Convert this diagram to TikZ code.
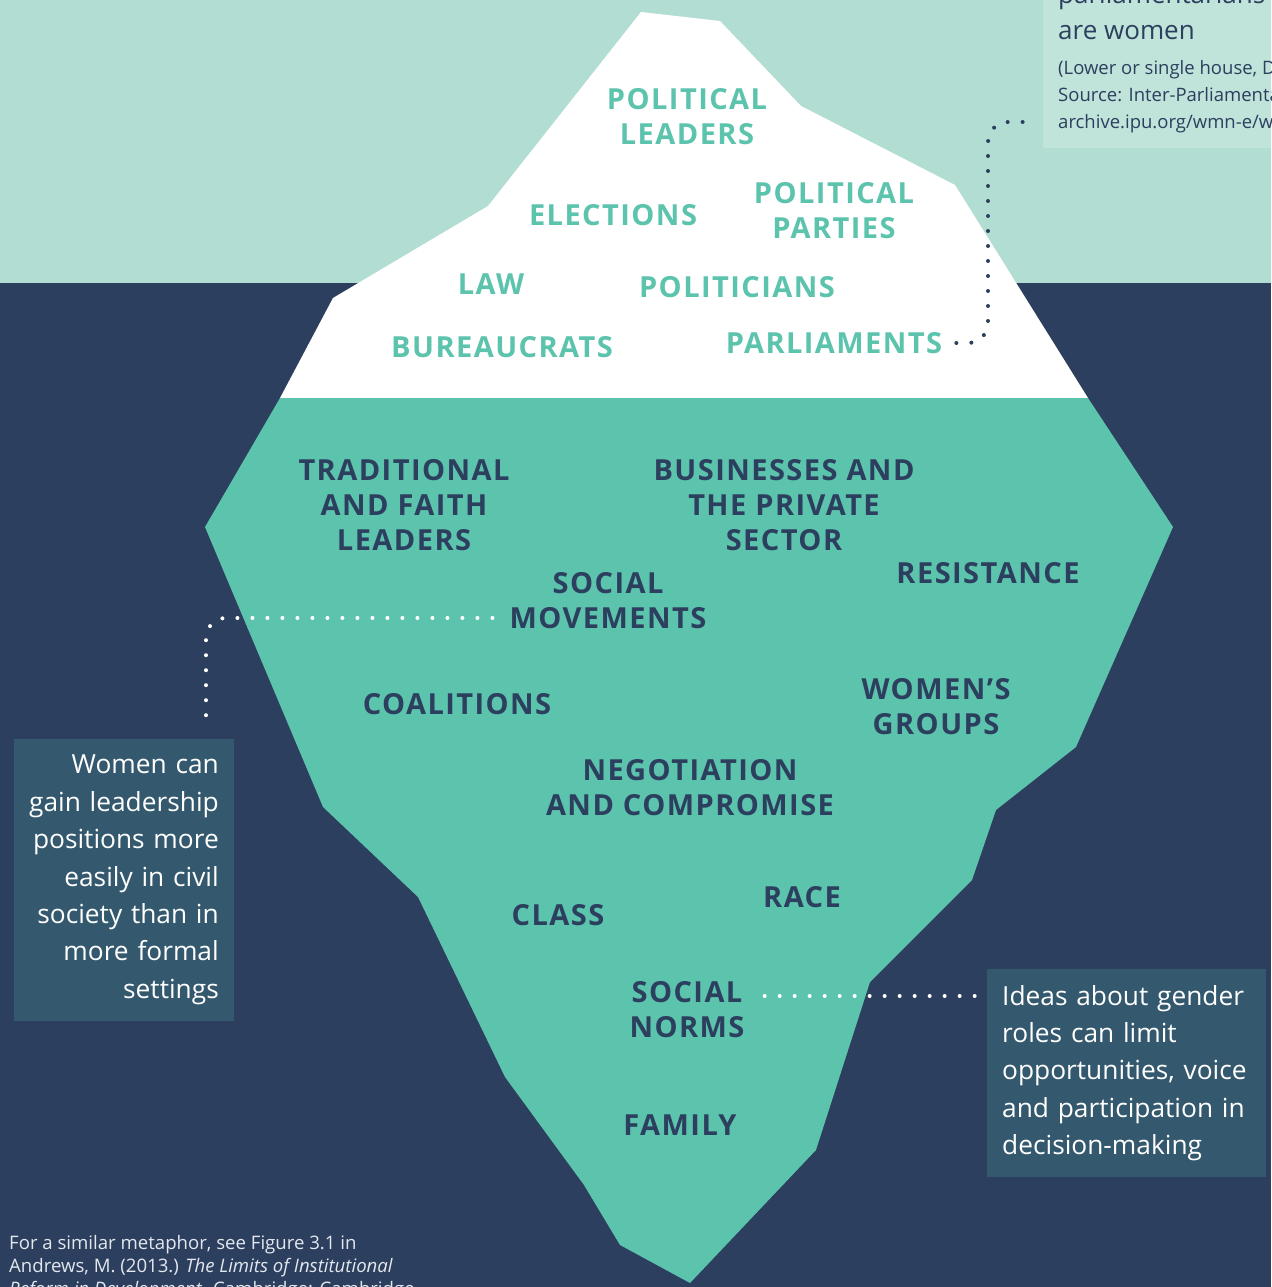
\documentclass[tikz,border=0pt]{standalone}
\usepackage{fontspec}
\setmainfont{Open Sans}
\newfontfamily\labelfont[LetterSpace=5]{Open Sans}
\usetikzlibrary{positioning}
\definecolor{skyteal}{HTML}{B2DDD3}
\definecolor{deepnavy}{HTML}{2C3F5E}
\definecolor{iceteal}{HTML}{5CC3AD}
\definecolor{noteslate}{HTML}{34596E}
\definecolor{notemint}{HTML}{C0E3DA}
\definecolor{footgrey}{HTML}{E4E8EE}
\tikzset{
  toplabel/.style={font=\labelfont\bfseries\fontsize{29}{35}\selectfont, text=iceteal, align=center, inner sep=0pt},
  deeplabel/.style={toplabel, text=deepnavy},
  notebox/.style={fill=noteslate, text=white, font=\fontsize{26.3}{37.4}\selectfont, inner xsep=15pt, inner ysep=16pt},
  whitedots/.style={draw=white, line width=4pt, line cap=round, dash pattern=on 0pt off 15pt, rounded corners=20pt},
  navydots/.style={whitedots, draw=deepnavy},
}

\begin{document}
\begin{tikzpicture}[x=1pt,y=-1pt]
  \useasboundingbox (0,0) rectangle (1271,1287);
  \clip (0,0) rectangle (1271,1287);
  % sky and sea
  \fill[skyteal] (0,0) rectangle (1271,283);
  \fill[deepnavy] (0,283) rectangle (1271,1287);
  % the iceberg: visible tip, then the part below
  \fill[white] (280,398) -- (333,298) -- (488,206) -- (641,12) -- (720,21) -- (801,106)
    -- (955,185) -- (1088,398) -- cycle;
  \fill[iceteal] (280,398) -- (1088,398) -- (1173,527) -- (1076,747) -- (996,810) -- (972,880)
    -- (870,982) -- (816,1150) -- (690,1283) -- (620,1245) -- (584,1185) -- (505,1077)
    -- (418,897) -- (323,807) -- (205,527) -- cycle;

  % side notes
  \node[fill=notemint, anchor=south west, minimum width=300pt, minimum height=200pt, inner sep=0pt] (ipubox) at (1043,148) {};
  \node[anchor=north west, inner sep=0pt, align=left, text=deepnavy, font=\fontsize{26}{36}\selectfont] (ipushare) at (1058,-16)
    {parliamentarians\\are women};
  \node[anchor=north west, inner sep=0pt, align=left, text=deepnavy, font=\fontsize{18.5}{27}\selectfont] (ipusource) at (1058,60.5)
    {(Lower or single house, Dec.~2017)\\Source: Inter-Parliamentary Union\\archive.ipu.org/wmn-e/world.htm};
  \node[notebox, anchor=north east, text width=190pt, align=right] (civilnote) at (234,739)
    {Women can\\gain leadership\\positions more\\easily in civil\\society than in\\more formal\\settings};
  \node[notebox, anchor=north west, text width=249pt, align=left] (normsnote) at (987,969)
    {Ideas about gender\\roles can limit\\opportunities, voice\\and participation in\\decision-making};

  % above the surface
  \node[toplabel] (leaders) at (687,117) {POLITICAL\\LEADERS};
  \node[toplabel] (elections) at (613,215) {ELECTIONS};
  \node[toplabel] (parties) at (834,211) {POLITICAL\\PARTIES};
  \node[toplabel] (law) at (491,284) {LAW};
  \node[toplabel] (politicians) at (737,287) {POLITICIANS};
  \node[toplabel] (bureaucrats) at (502,347) {BUREAUCRATS};
  \node[toplabel] (parliaments) at (834,343) {PARLIAMENTS};

  % below the surface
  \node[deeplabel] (faith) at (404,505) {TRADITIONAL\\AND FAITH\\LEADERS};
  \node[deeplabel] (business) at (784,505) {BUSINESSES AND\\THE PRIVATE\\SECTOR};
  \node[deeplabel] (movements) at (608,601) {SOCIAL\\MOVEMENTS};
  \node[deeplabel] (resistance) at (988,573) {RESISTANCE};
  \node[deeplabel] (coalitions) at (457,704) {COALITIONS};
  \node[deeplabel] (womensgroups) at (936,707) {WOMEN’S\\GROUPS};
  \node[deeplabel] (negotiation) at (690,788) {NEGOTIATION\\AND COMPROMISE};
  \node[deeplabel] (class) at (558,915) {CLASS};
  \node[deeplabel] (race) at (802,897) {RACE};
  \node[deeplabel] (norms) at (687,1010) {SOCIAL\\NORMS};
  \node[deeplabel] (family) at (680,1125) {FAMILY};

  % dotted leaders to the notes
  \coordinate (ipulink) at ([yshift=26pt]ipubox.south west);
  \draw[navydots, shorten >=14pt] ([xshift=14pt]parliaments.east) -| ([xshift=-55pt]ipulink) -- (ipulink);
  \draw[whitedots, shorten >=14pt] ([xshift=-17pt,yshift=-17pt]movements.west) -| ([xshift=-28pt]civilnote.north east);
  \coordinate (normslink) at ([xshift=20pt,yshift=14pt]norms.east);
  \draw[whitedots, shorten >=12pt] (normslink) -- (normslink -| normsnote.west);

  % source line
  \node[anchor=north west, inner sep=0pt, align=left, text=footgrey, font=\fontsize{18.6}{23}\selectfont] (source) at (9,1235)
    {For a similar metaphor, see Figure 3.1 in\\Andrews, M. (2013.) \textit{The Limits of Institutional}\\\textit{Reform in Development}. Cambridge: Cambridge};
\end{tikzpicture}
\end{document}
